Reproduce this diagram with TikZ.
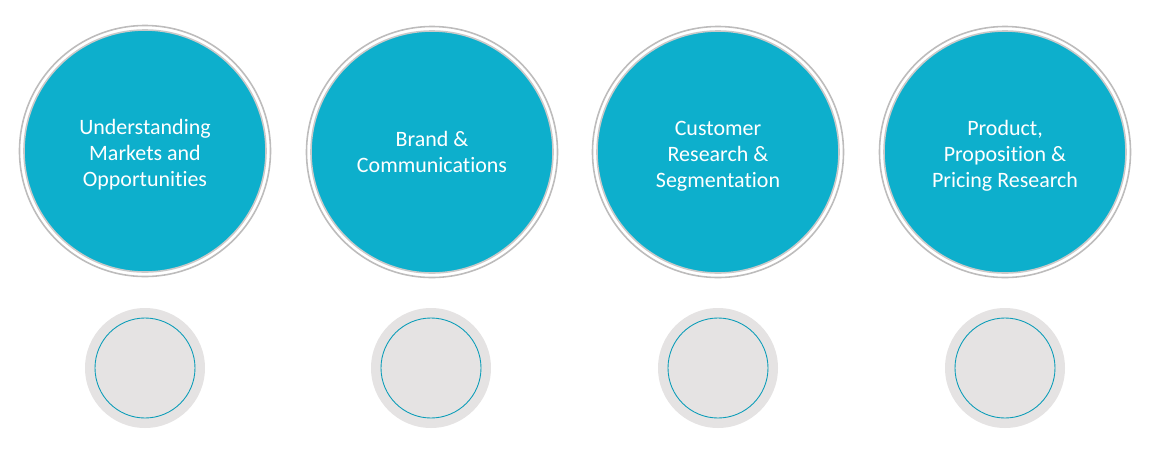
\documentclass[tikz,border=0pt]{standalone}
\usepackage{fontspec}
\setmainfont{Carlito}[Ligatures=NoCommon]
\usepackage{tikz}

\definecolor{discteal}{HTML}{0DAFCC}
\definecolor{ringgray}{HTML}{BDBCBC}
\definecolor{softgray}{HTML}{E5E3E3}

\begin{document}
\begin{tikzpicture}[
  bigring/.style={circle,draw=ringgray,line width=0.9pt,minimum size=5.02cm,inner sep=0pt},
  bigdisc/.style={circle,fill=discteal,draw=ringgray!80,line width=0.9pt,minimum size=4.84cm,inner sep=0pt},
  disctext/.style={text=white,align=center,yshift=-0.08cm,font=\fontsize{12.5}{14.8}\selectfont},
  smalldisc/.style={circle,fill=softgray,minimum size=2.4cm,inner sep=0pt},
  smallring/.style={circle,draw=discteal!90!black,line width=0.5pt,minimum size=2cm,inner sep=0pt}
]
\useasboundingbox (0,0) rectangle (23,-9.2);

% top row
\node (markets-ring) [bigring] at (2.9,-3.02) {};
\node (markets) [bigdisc] at (markets-ring) {};
\node (markets-text) [disctext] at (markets) {Understanding\\Markets and\\Opportunities};

\node (brand-ring) [bigring] at (8.64,-3.04) {};
\node (brand) [bigdisc] at (brand-ring) {};
\node (brand-text) [disctext,yshift=0.08cm] at (brand) {Brand \&\\Communications};

\node (customer-ring) [bigring] at (14.36,-3.04) {};
\node (customer) [bigdisc] at (customer-ring) {};
\node (customer-text) [disctext] at (customer) {Customer\\Research \&\\Segmentation};

\node (product-ring) [bigring] at (20.1,-3.04) {};
\node (product) [bigdisc] at (product-ring) {};
\node (product-text) [disctext] at (product) {Product,\\Proposition \&\\Pricing Research};

% bottom row
\node (markets-dot) [smalldisc] at (2.9,-7.36) {};
\node (markets-mark) [smallring] at (markets-dot) {};

\node (brand-dot) [smalldisc] at (8.62,-7.36) {};
\node (brand-mark) [smallring] at (brand-dot) {};

\node (customer-dot) [smalldisc] at (14.36,-7.36) {};
\node (customer-mark) [smallring] at (customer-dot) {};

\node (product-dot) [smalldisc] at (20.1,-7.36) {};
\node (product-mark) [smallring] at (product-dot) {};
\end{tikzpicture}
\end{document}
